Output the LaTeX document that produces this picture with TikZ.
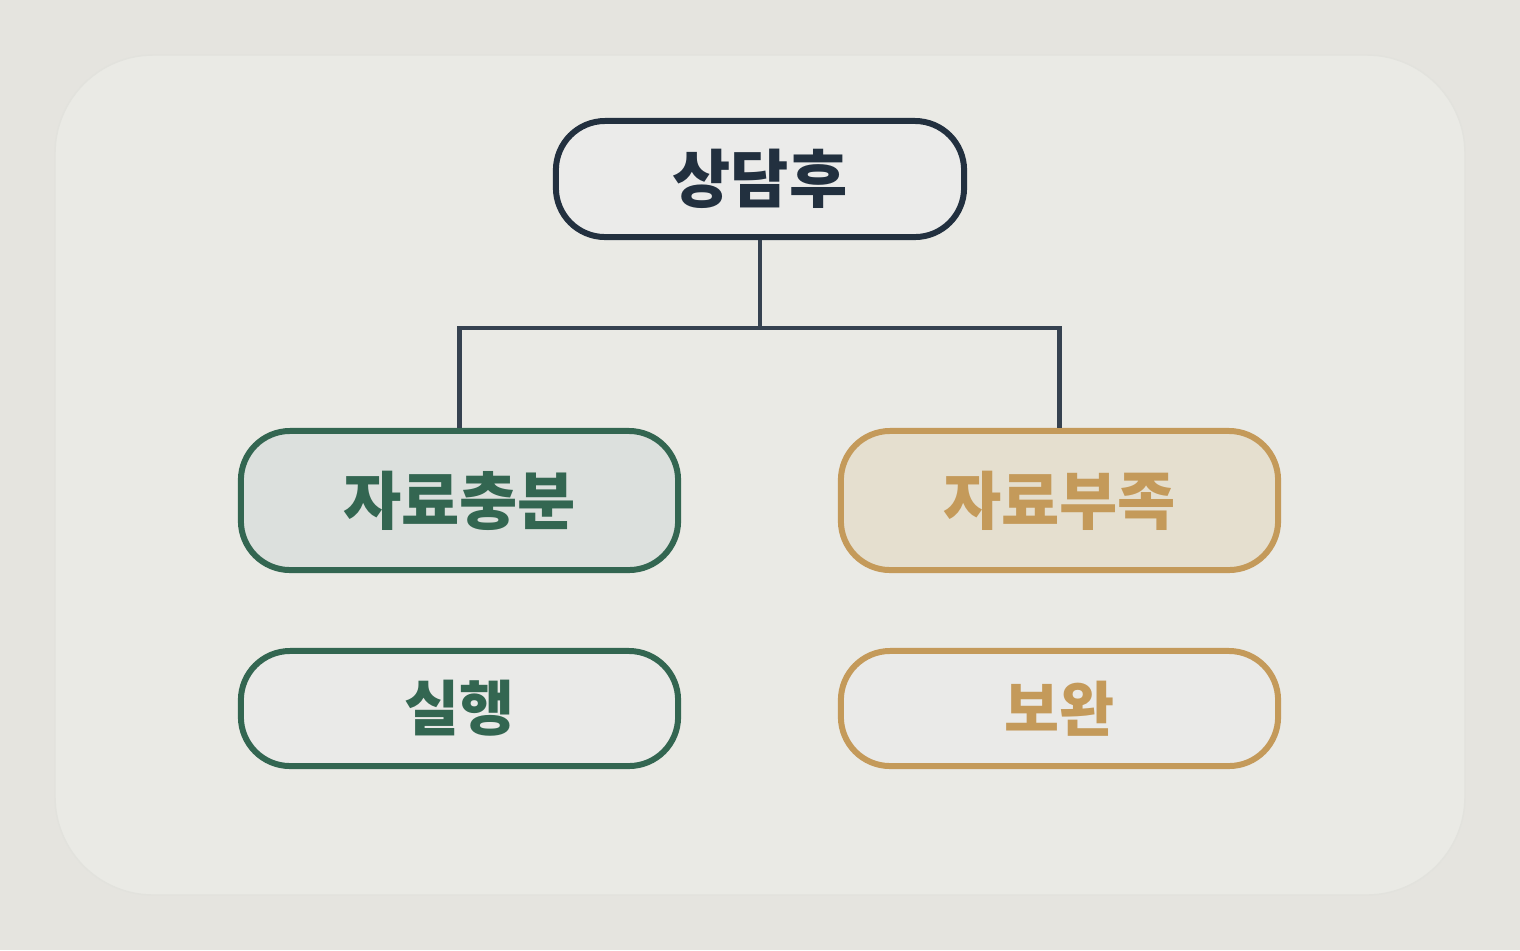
\documentclass[tikz,border=0pt]{standalone}
\usepackage{fontspec}
\newfontfamily\kr{Noto Sans CJK KR}
\definecolor{pagebg}{HTML}{E5E4DF}
\definecolor{panel}{HTML}{EAEAE5}
\definecolor{ink}{HTML}{22303F}
\definecolor{wire}{HTML}{364250}
\definecolor{pine}{HTML}{336651}
\definecolor{ochre}{HTML}{C49A5A}
\tikzset{
  box/.style={rounded corners=14pt, line width=1.7pt, minimum width=4.37cm, font=\kr\bfseries\fontsize{18}{20}\selectfont},
  topbox/.style={box, draw=ink, fill={rgb,255:red,235;green,235;blue,234}, text=ink, minimum width=4.08cm, minimum height=1.16cm},
  goodbox/.style={box, draw=pine, fill={rgb,255:red,220;green,224;blue,221}, text=pine, minimum height=1.39cm},
  lackbox/.style={box, draw=ochre, fill={rgb,255:red,229;green,223;blue,207}, text=ochre, minimum height=1.39cm},
  stepbox/.style={box, fill={rgb,255:red,234;green,234;blue,232}, minimum height=1.15cm, font=\kr\bfseries\fontsize{17}{19}\selectfont},
  link/.style={draw=wire, line width=1.4pt}
}
\begin{document}
\begin{tikzpicture}[x=0.01cm, y=-0.01cm]
  % Background and panel
  \fill[pagebg] (0,0) rectangle (1520,950);
  \useasboundingbox (0,0) rectangle (1520,950);
  \filldraw[fill=panel, draw={rgb,255:red,226;green,226;blue,221}, rounded corners=28pt] (55,55) rectangle (1465,895);

  % Nodes
  \node[topbox] (after) at (760,179) {상담후};
  \node[goodbox] (enough) at (459.5,500.5) {자료충분};
  \node[lackbox] (short) at (1059.5,500.5) {자료부족};
  \node[stepbox, draw=pine, text=pine] (act) at (459.5,708.5) {실행};
  \node[stepbox, draw=ochre, text=ochre] (fix) at (1059.5,708.5) {보완};

  % Connectors
  \coordinate (split) at (760,328);
  \draw[link] (after.south) -- (split);
  \draw[link] (split) -| (enough.north);
  \draw[link] (split) -| (short.north);
\end{tikzpicture}
\end{document}
